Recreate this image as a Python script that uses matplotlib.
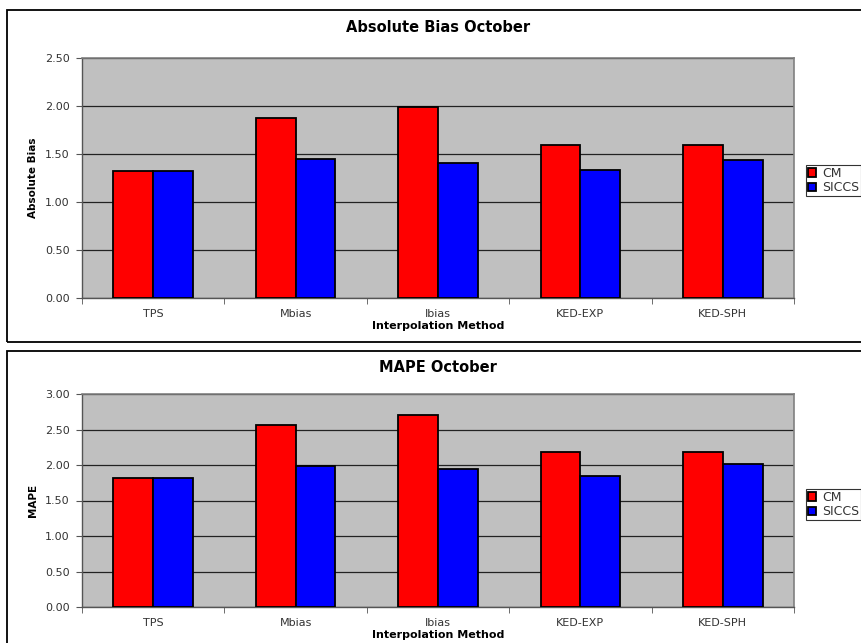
import matplotlib.pyplot as plt
from matplotlib.patches import Rectangle
import numpy as np

plt.rcParams['font.family'] = ['DejaVu Sans']

methods = ['TPS', 'Mbias', 'Ibias', 'KED-EXP', 'KED-SPH']
series = ['CM', 'SICCS']

bias_cm = [1.32, 1.87, 1.99, 1.59, 1.59]
bias_siccs = [1.32, 1.45, 1.41, 1.33, 1.44]

mape_cm = [1.82, 2.56, 2.70, 2.18, 2.18]
mape_siccs = [1.82, 1.99, 1.95, 1.85, 2.02]

W, H = 862, 643
fig = plt.figure(figsize=(W / 100, H / 100), dpi=100)
fig.patch.set_facecolor('white')


def px_axes(left, top, right, bottom):
    return fig.add_axes([left / W, 1 - bottom / H, (right - left) / W, (bottom - top) / H])


def frame(left, top, right, bottom):
    fig.patches.append(Rectangle((left / W, 1 - bottom / H), (right - left) / W, (bottom - top) / H,
                                 transform=fig.transFigure, fill=False, edgecolor='black',
                                 linewidth=1.3, clip_on=False))


def panel(ax, cm, siccs, title, ylabel, ymax, title_y, legend_y):
    x = np.arange(len(methods))
    w = 0.28
    ax.set_facecolor('#c0c0c0')
    ax.bar(x - w / 2, cm, w, color='#ff0000', edgecolor='black', linewidth=1.3, label=series[0], zorder=3)
    ax.bar(x + w / 2, siccs, w, color='#0000ff', edgecolor='black', linewidth=1.3, label=series[1], zorder=3)
    ax.set_xlim(-0.5, len(methods) - 0.5)
    ax.set_ylim(0, ymax)
    ticks = np.arange(0, ymax + 0.01, 0.5)
    ax.set_yticks(ticks)
    ax.set_yticklabels(['%.2f' % t for t in ticks], fontsize=8, color='#333333')
    ax.yaxis.grid(True, color='#222222', linewidth=0.9, zorder=1)
    ax.set_axisbelow(True)
    ax.set_xticks(x)
    ax.set_xticklabels(methods, fontsize=8, color='#333333')
    ax.set_xticks(np.arange(-0.5, len(methods)), minor=True)
    ax.tick_params(axis='x', which='major', length=0, pad=8)
    ax.tick_params(axis='x', which='minor', length=4, color='#555555')
    ax.tick_params(axis='y', length=4, color='#555555', pad=5)
    for s in ['top', 'right']:
        ax.spines[s].set_color('#808080')
        ax.spines[s].set_linewidth(1.2)
    for s in ['left', 'bottom']:
        ax.spines[s].set_color('#555555')
        ax.spines[s].set_linewidth(1.0)

    # title sits in the frame, above the plot area
    fig.text(0.5 * (82 + 794) / W, 1 - title_y / H, title, fontsize=10.5, fontweight='bold',
             ha='center', va='center')
    plot_h = ax.get_position().height * H
    ax.set_xlabel('Interpolation Method', fontsize=8, fontweight='bold')
    ax.xaxis.set_label_coords(0.5, -23 / plot_h)
    ax.set_ylabel(ylabel, fontsize=7.5, fontweight='bold')
    ax.yaxis.set_label_coords(-44 / 712, 0.5)

    leg = ax.legend(loc='upper left', bbox_to_anchor=(806 / W, 1 - legend_y / H),
                    bbox_transform=fig.transFigure, fontsize=9, frameon=True, fancybox=False,
                    handlelength=0.65, handleheight=0.65, handletextpad=0.5, borderpad=0.15,
                    labelspacing=0.1, borderaxespad=0)
    leg.get_frame().set_edgecolor('black')
    leg.get_frame().set_linewidth(0.8)
    for t in leg.get_texts():
        t.set_color('#333333')


frame(7, 10, 900, 342)
frame(7, 351, 900, 700)

ax1 = px_axes(82, 58, 794, 298)
panel(ax1, bias_cm, bias_siccs, 'Absolute Bias October', 'Absolute Bias', 2.5, 27, 165)

ax2 = px_axes(82, 394, 794, 607)
panel(ax2, mape_cm, mape_siccs, 'MAPE October', 'MAPE', 3.0, 367, 489)

fig.savefig('out.png', dpi=100)
